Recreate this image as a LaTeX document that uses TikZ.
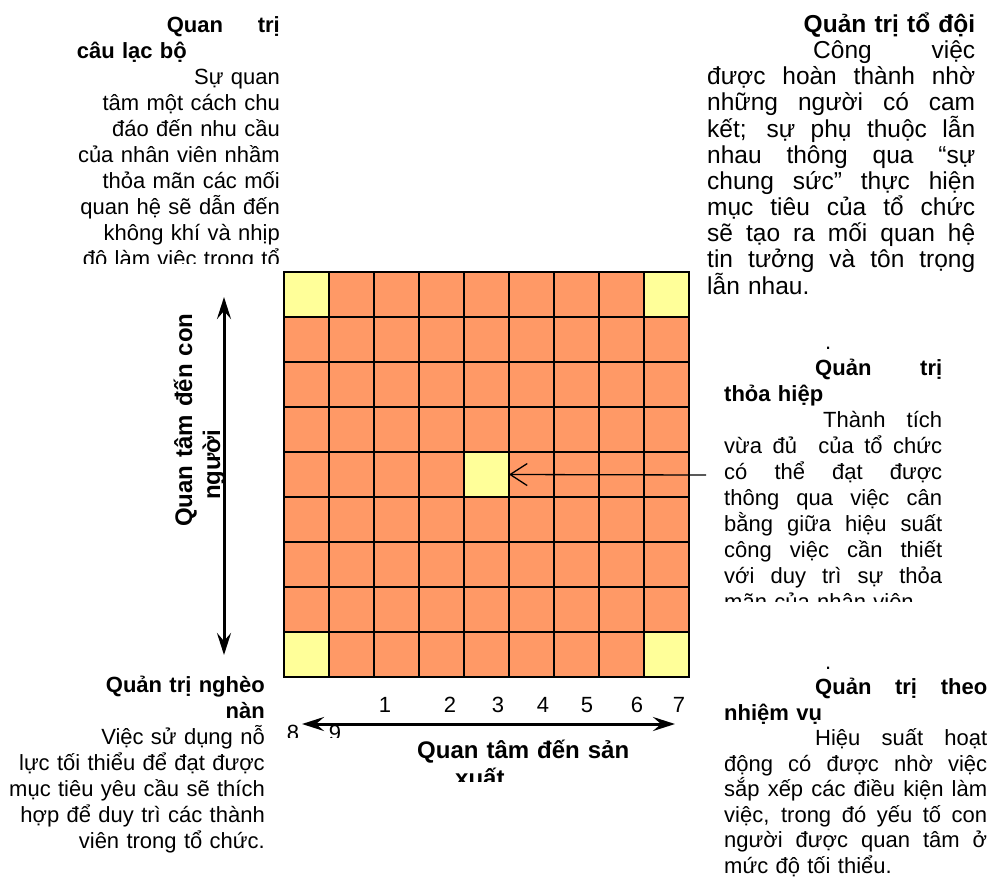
\documentclass[tikz,border=0pt]{standalone}
\usepackage{fontspec}
\setmainfont{Liberation Sans}
\usepackage{tikz}
\usetikzlibrary{arrows.meta}

\definecolor{cellfill}{RGB}{255,153,102}
\definecolor{keyfill}{RGB}{255,255,153}
\newcommand{\fillrow}[1]{\makebox[\linewidth][s]{\spaceskip=.28em plus 1fil\relax #1}}
\newcommand{\leftrow}[1]{\makebox[\linewidth][l]{#1}}
\newcommand{\rightrow}[1]{\makebox[\linewidth][r]{#1}}

\begin{document}
\begin{tikzpicture}[
  x=1pt, y=-1pt,
  cell/.style={draw, line width=1.8pt, minimum size=45pt, inner sep=0pt, outer sep=0pt},
  para/.style={inner sep=0pt, font=\fontsize{22}{26}\selectfont},
  axislabel/.style={inner sep=0pt, font=\bfseries\fontsize{24}{28}\selectfont, text width=240pt, align=left},
  num/.style={inner sep=0pt, font=\fontsize{22}{26}\selectfont},
  axis/.style={line width=3pt, >={Stealth[length=22pt,width=14pt,inset=8pt]}, <->},
  pointer/.style={line width=1.3pt, -{Straight Barb[length=17pt,width=22pt]}}
]
\fill[white] (0,0) rectangle (992,878);
\useasboundingbox (0,0) rectangle (992,878);

\foreach \r in {1,...,9}
  \foreach \c in {1,...,9} {
    \pgfmathtruncatemacro\iskey{(\r==5 && \c==5) || ((\r==1 || \r==9) && (\c==1 || \c==9))}
    \ifnum\iskey=1 \def\cellcol{keyfill}\else\def\cellcol{cellfill}\fi
    \node[cell, fill=\cellcol] (c-\r-\c) at (261.5+45*\c, 249.5+45*\r) {};
  }

\coordinate (ytop) at (224,297);
\coordinate (ybot) at (224,655);
\coordinate (xleft) at (302,724);
\coordinate (xright) at (675,724);
\coordinate (ptr) at (706,475);
\draw[axis] (ybot) -- (ytop);
\draw[axis] (xleft) -- (xright);
\draw[pointer] (ptr) -- (c-5-5.east);

\node[axislabel, rotate=90, anchor=base west] (people) at (192,527)
  {Quan tâm đến con\\\hspace*{27pt}người};
\begin{scope}
  \clip (380,730) rectangle (680,781);
  \node[axislabel, anchor=base west] (output) at (417,758)
    {Quan tâm đến sản\\\hspace*{38pt}xuất};
\end{scope}

\foreach \n/\x in {1/385,2/450,3/498,4/543,5/587,6/637,7/679}
  \node[num, anchor=base] (n\n) at (\x,712) {\n};
\begin{scope}
  \clip (270,690) rectangle (360,737);
  \foreach \n/\x in {8/293,9/335}
    \node[num, anchor=base] (n\n) at (\x,740) {\n};
\end{scope}

\begin{scope}
  \clip (40,0) rectangle (290,263);
  \node[para, text width=230pt, align=right, anchor=base east] (club) at (280,32) {
    \fillrow{\hspace*{117pt}\textbf{Quan trị}}\\
    \leftrow{\hspace*{27pt}\textbf{câu lạc bộ}}\\
    Sự quan\\
    tâm một cách chu\\
    đáo đến nhu cầu\\
    của nhân viên nhầm\\
    thỏa mãn các mối\\
    quan hệ sẽ dẫn đến\\
    không khí và nhịp\\
    độ làm việc trong tổ\\
    chức.};
\end{scope}

\node[para, font=\fontsize{24.5}{26}\selectfont, text width=268pt, align=left, anchor=base west] (team) at (707,32) {
  \rightrow{\textbf{Quản trị tổ đội}}\\
  \fillrow{\hspace*{106pt}Công việc}\\
  \fillrow{được hoàn thành nhờ}\\
  \fillrow{những người có cam}\\
  \fillrow{kết; sự phụ thuộc lẫn}\\
  \fillrow{nhau thông qua “sự}\\
  \fillrow{chung sức” thực hiện}\\
  \fillrow{mục tiêu của tổ chức}\\
  \fillrow{sẽ tạo ra mối quan hệ}\\
  \fillrow{tin tưởng và tôn trọng}\\
  lẫn nhau.};

\begin{scope}
  \clip (700,330) rectangle (970,601);
  \node[para, text width=218pt, align=left, anchor=base west] (middle) at (724,349) {
    \hspace*{101pt}.\\
    \fillrow{\hspace*{91pt}\textbf{Quản trị}}\\
    \textbf{thỏa hiệp}\\
    \fillrow{\hspace*{99pt}Thành tích}\\
    \fillrow{vừa đủ\ \ của tổ chức}\\
    \fillrow{có thể đạt được}\\
    \fillrow{thông qua việc cân}\\
    \fillrow{bằng giữa hiệu suất}\\
    \fillrow{công việc cần thiết}\\
    \fillrow{với duy trì sự thỏa}\\
    mãn của nhân viên.};
\end{scope}

\node[para, font=\fontsize{22}{25.5}\selectfont, text width=263pt, align=left, anchor=base west] (task) at (724,669) {
  \hspace*{101pt}.\\
  \fillrow{\hspace*{91pt}\textbf{Quản trị theo}}\\
  \textbf{nhiệm vụ}\\
  \fillrow{\hspace*{91pt}Hiệu suất hoạt}\\
  \fillrow{động có được nhờ việc}\\
  \fillrow{sắp xếp các điều kiện làm}\\
  \fillrow{việc, trong đó yếu tố con}\\
  \fillrow{người được quan tâm ở}\\
  mức độ tối thiểu.};

\node[para, text width=260pt, align=right, anchor=base east] (poor) at (265,692) {
  \textbf{Quản trị nghèo}\\
  \textbf{nàn}\\
  Việc sử dụng nỗ\\
  lực tối thiểu để đạt được\\
  mục tiêu yêu cầu sẽ thích\\
  hợp để duy trì các thành\\
  viên trong tổ chức.};
\end{tikzpicture}
\end{document}
